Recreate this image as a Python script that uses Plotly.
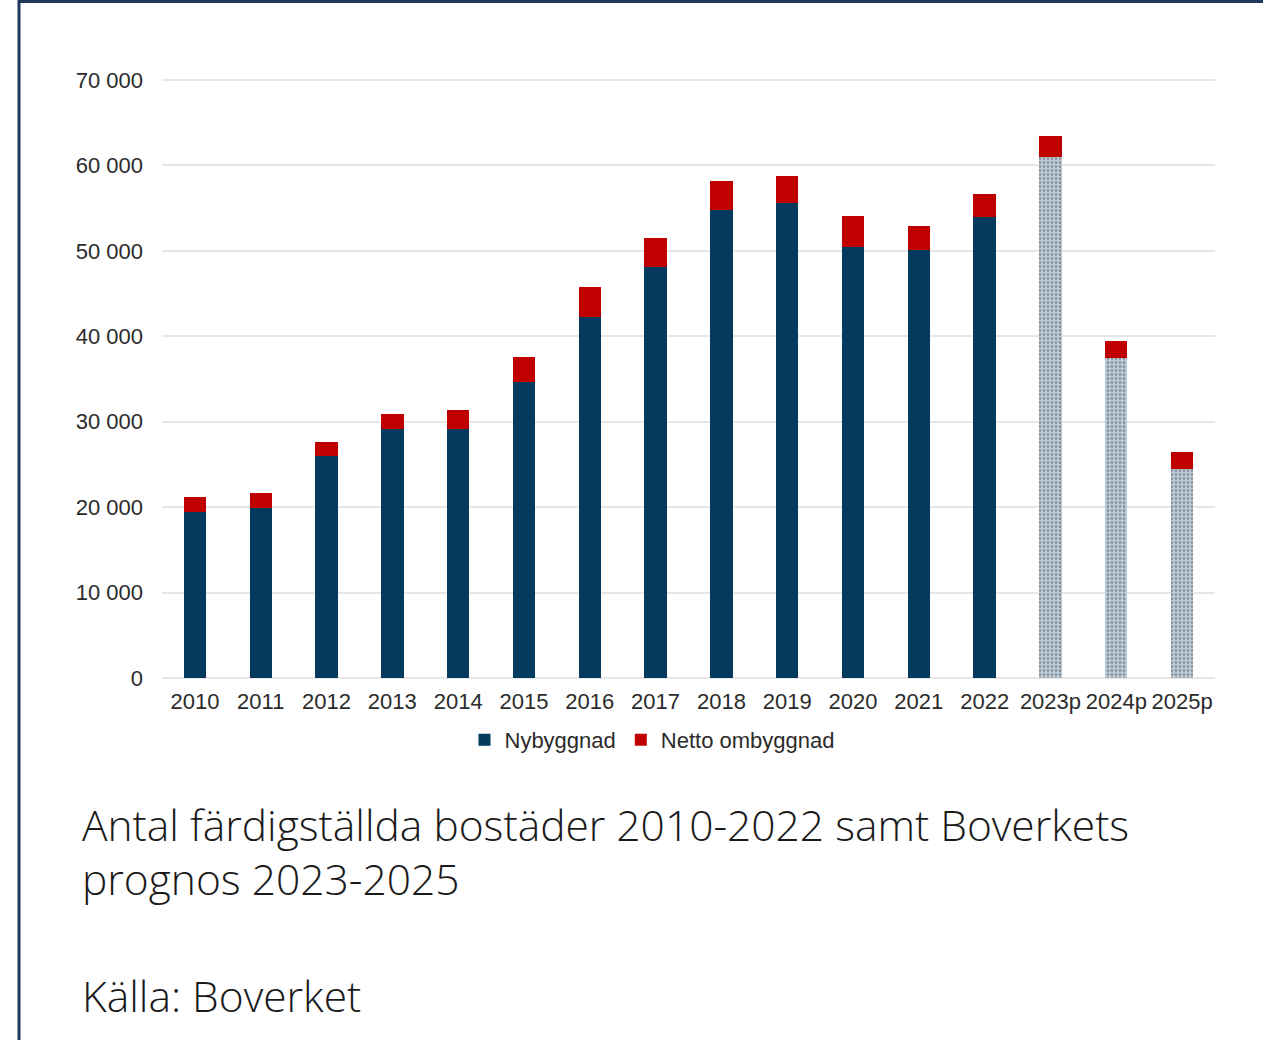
import plotly.graph_objects as go

W, H = 1263, 1040

years = ["2010", "2011", "2012", "2013", "2014", "2015", "2016", "2017",
         "2018", "2019", "2020", "2021", "2022", "2023p", "2024p", "2025p"]
nybyggnad = [19400, 19900, 26000, 29100, 29100, 34600, 42300, 48100,
             54800, 55600, 50400, 50100, 54000, 61000, 37400, 24500]
netto_ombyggnad = [1800, 1750, 1600, 1750, 2250, 2950, 3500, 3400,
                   3400, 3150, 3650, 2800, 2650, 2450, 2000, 2000]
forecast = [False] * 13 + [True] * 3
y_ticks = [0, 10000, 20000, 30000, 40000, 50000, 60000, 70000]
y_max = 70400

NAVY = "#033a5e"
RED = "#c00000"
FC_BG = "#bccddb"
FC_FG = "#8fa7ba"

PX_ZERO, PX_70K = 678, 80


def px_x(x):
    return x / W


def px_y(y):
    return 1 - y / H


top_px = PX_ZERO - (PX_ZERO - PX_70K) * y_max / 70000

fig = go.Figure()
fig.add_trace(go.Bar(
    x=years, y=nybyggnad, name="Nybyggnad",
    marker=dict(
        color=[FC_BG if f else NAVY for f in forecast],
        line=dict(width=0),
        pattern=dict(
            shape=["." if f else "" for f in forecast],
            fgcolor=FC_FG, size=4, solidity=0.35, fillmode="overlay",
        ),
    ),
))
fig.add_trace(go.Bar(
    x=years, y=netto_ombyggnad, name="Netto ombyggnad",
    marker=dict(color=RED, line=dict(width=0)),
))

axis_font = dict(family="Liberation Sans, Arial, sans-serif", size=22, color="#2b2b2b")

fig.update_layout(
    width=W, height=H,
    margin=dict(l=0, r=0, t=0, b=0, pad=0, autoexpand=False),
    paper_bgcolor="white", plot_bgcolor="white",
    barmode="stack", bargap=0.66,
    separators=", ",
    showlegend=True,
    legend=dict(
        orientation="h", x=px_x(652), xanchor="center",
        y=px_y(740), yanchor="middle",
        font=axis_font, itemwidth=30, traceorder="normal",
        bgcolor="rgba(0,0,0,0)",
    ),
    xaxis=dict(
        domain=[px_x(162), px_x(1215)],
        type="category", tickfont=axis_font,
        showgrid=False, showline=False, ticks="",
        ticklabelstandoff=8, automargin=False,
    ),
    yaxis=dict(
        domain=[px_y(PX_ZERO), px_y(top_px)],
        range=[0, y_max], tickvals=y_ticks, tickformat=",d",
        tickfont=axis_font, showgrid=True, gridcolor="#e6e6e6", gridwidth=2,
        zeroline=True, zerolinecolor="#e6e6e6", zerolinewidth=2,
        showline=False, ticks="", ticklabelstandoff=18, automargin=False,
    ),
    shapes=[
        dict(type="line", xref="paper", yref="paper",
             x0=px_x(19), x1=px_x(19), y0=0, y1=1,
             line=dict(color="#1f3a5c", width=3)),
        dict(type="line", xref="paper", yref="paper",
             x0=px_x(18), x1=1, y0=px_y(1.5), y1=px_y(1.5),
             line=dict(color="#1f3a5c", width=3)),
    ],
)

cap_font = dict(family="Open Sans, sans-serif", size=42.5, color="#1a1a1a", weight=300)
captions = [
    ("Antal färdigställda bostäder 2010-2022 samt Boverkets", 824),
    ("prognos 2023-2025", 878),
    ("Källa: Boverket", 995),
]
for text, yc in captions:
    fig.add_annotation(
        text=text, xref="paper", yref="paper",
        x=px_x(80), y=px_y(yc), xanchor="left", yanchor="middle",
        showarrow=False, font=cap_font,
    )

fig.write_html("out.html", post_script="document.body.style.margin='0';",
               config={"displayModeBar": False})
